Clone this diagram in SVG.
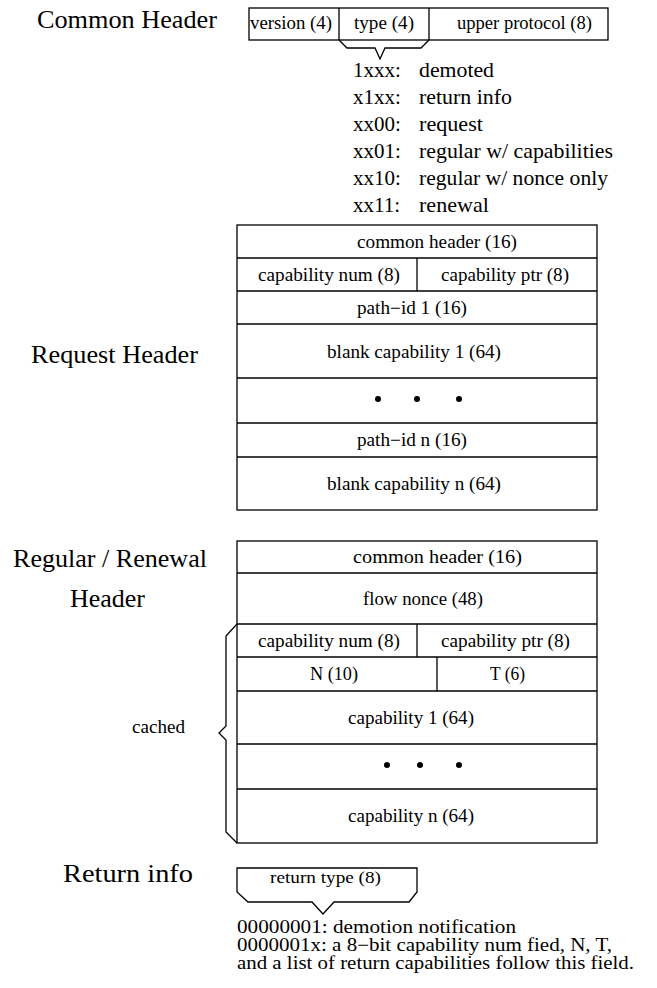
<svg xmlns="http://www.w3.org/2000/svg" width="657" height="988" viewBox="0 0 657 988">
<style>
.box{fill:none;stroke:#000;stroke-width:1.3}
.ln{fill:none;stroke:#000;stroke-width:1.3}
.big{font-family:"Liberation Serif","Times New Roman",serif;font-size:26px;fill:#000}
.t{font-family:"Liberation Serif","Times New Roman",serif;font-size:18px;fill:#000}
.s{font-family:"Liberation Serif","Times New Roman",serif;font-size:16px;fill:#000}
.l{font-family:"Liberation Serif","Times New Roman",serif;font-size:21px;fill:#000}
.d{font-family:"Liberation Serif","Times New Roman",serif;font-size:18px;fill:#000}
.dot{fill:#000}
</style>
<rect width="657" height="988" fill="#fff"/>

<g id="common-header">
<text class="big" x="37" y="28" textLength="180" lengthAdjust="spacingAndGlyphs">Common Header</text>
<rect class="box" x="249" y="8" width="359" height="32"/>
<line class="ln" x1="339" y1="8" x2="339" y2="40"/>
<line class="ln" x1="429" y1="8" x2="429" y2="40"/>
<text class="t" x="250" y="29" textLength="82" lengthAdjust="spacingAndGlyphs">version (4)</text>
<text class="t" x="354" y="29" textLength="60" lengthAdjust="spacingAndGlyphs">type (4)</text>
<text class="t" x="457" y="29" textLength="135" lengthAdjust="spacingAndGlyphs">upper protocol (8)</text>
</g>

<g id="type-list">
<text class="l" x="353" y="77">1xxx:</text><text class="l" x="419" y="77" textLength="75" lengthAdjust="spacingAndGlyphs">demoted</text>
<text class="l" x="353" y="104">x1xx:</text><text class="l" x="419" y="104" textLength="93" lengthAdjust="spacingAndGlyphs">return info</text>
<text class="l" x="353" y="131">xx00:</text><text class="l" x="419" y="131" textLength="64" lengthAdjust="spacingAndGlyphs">request</text>
<text class="l" x="353" y="158">xx01:</text><text class="l" x="419" y="158" textLength="194" lengthAdjust="spacingAndGlyphs">regular w/ capabilities</text>
<text class="l" x="353" y="185">xx10:</text><text class="l" x="419" y="185" textLength="189" lengthAdjust="spacingAndGlyphs">regular w/ nonce only</text>
<text class="l" x="353" y="212">xx11:</text><text class="l" x="419" y="212" textLength="70" lengthAdjust="spacingAndGlyphs">renewal</text>
</g>

<g id="request-header">
<text class="big" x="31" y="363" textLength="167" lengthAdjust="spacingAndGlyphs">Request Header</text>
<rect class="box" x="237" y="225" width="360" height="285"/>
<line class="ln" x1="237" y1="258" x2="597" y2="258"/>
<line class="ln" x1="237" y1="291" x2="597" y2="291"/>
<line class="ln" x1="417" y1="258" x2="417" y2="291"/>
<line class="ln" x1="237" y1="324" x2="597" y2="324"/>
<line class="ln" x1="237" y1="378" x2="597" y2="378"/>
<line class="ln" x1="237" y1="423" x2="597" y2="423"/>
<line class="ln" x1="237" y1="457" x2="597" y2="457"/>
<text class="t" x="357" y="248" textLength="160" lengthAdjust="spacingAndGlyphs">common header (16)</text>
<text class="t" x="258" y="281" textLength="142" lengthAdjust="spacingAndGlyphs">capability num (8)</text>
<text class="t" x="441" y="281" textLength="128" lengthAdjust="spacingAndGlyphs">capability ptr (8)</text>
<text class="t" x="357" y="314" textLength="110" lengthAdjust="spacingAndGlyphs">path−id 1 (16)</text>
<text class="t" x="327" y="358" textLength="174" lengthAdjust="spacingAndGlyphs">blank capability 1 (64)</text>
<circle class="dot" cx="378" cy="399" r="3"/>
<circle class="dot" cx="417" cy="399" r="3"/>
<circle class="dot" cx="459" cy="399" r="3"/>
<text class="t" x="357" y="446" textLength="110" lengthAdjust="spacingAndGlyphs">path−id n (16)</text>
<text class="t" x="327" y="490" textLength="174" lengthAdjust="spacingAndGlyphs">blank capability n (64)</text>
</g>

<g id="regular-header">
<text class="big" x="13" y="567" textLength="194" lengthAdjust="spacingAndGlyphs">Regular / Renewal</text>
<text class="big" x="70" y="607" textLength="75" lengthAdjust="spacingAndGlyphs">Header</text>
<rect class="box" x="237" y="541" width="360" height="302"/>
<line class="ln" x1="237" y1="573" x2="597" y2="573"/>
<line class="ln" x1="237" y1="624" x2="597" y2="624"/>
<line class="ln" x1="237" y1="657" x2="597" y2="657"/>
<line class="ln" x1="417" y1="624" x2="417" y2="657"/>
<line class="ln" x1="237" y1="691" x2="597" y2="691"/>
<line class="ln" x1="437" y1="657" x2="437" y2="691"/>
<line class="ln" x1="237" y1="744" x2="597" y2="744"/>
<line class="ln" x1="237" y1="789" x2="597" y2="789"/>
<text class="t" x="353" y="563" textLength="169" lengthAdjust="spacingAndGlyphs">common header (16)</text>
<text class="t" x="363" y="605" textLength="120" lengthAdjust="spacingAndGlyphs">flow nonce (48)</text>
<text class="t" x="258" y="647" textLength="142" lengthAdjust="spacingAndGlyphs">capability num (8)</text>
<text class="t" x="441" y="647" textLength="129" lengthAdjust="spacingAndGlyphs">capability ptr (8)</text>
<text class="t" x="310" y="680" textLength="48" lengthAdjust="spacingAndGlyphs">N (10)</text>
<text class="t" x="490" y="680" textLength="35" lengthAdjust="spacingAndGlyphs">T (6)</text>
<text class="t" x="348" y="724" textLength="126" lengthAdjust="spacingAndGlyphs">capability 1 (64)</text>
<circle class="dot" cx="387" cy="765" r="3"/>
<circle class="dot" cx="420" cy="765" r="3"/>
<circle class="dot" cx="459" cy="765" r="3"/>
<text class="t" x="348" y="822" textLength="126" lengthAdjust="spacingAndGlyphs">capability n (64)</text>
</g>

<g id="cached">
<text class="t" x="132" y="733" textLength="53" lengthAdjust="spacingAndGlyphs">cached</text>
</g>

<g id="return-info">
<text class="big" x="63" y="882" textLength="130" lengthAdjust="spacingAndGlyphs">Return info</text>
<path class="ln" d="M237,892 L237,868 L417,868 L417,892 L409,902 L334,902 L323,914 L312,902 L248,902 Z"/>
<text class="s" x="270" y="883" textLength="111" lengthAdjust="spacingAndGlyphs">return type (8)</text>
<text class="d" x="237" y="933" textLength="279" lengthAdjust="spacingAndGlyphs">00000001: demotion notification</text>
<text class="d" x="237" y="951" textLength="375" lengthAdjust="spacingAndGlyphs">0000001x: a 8−bit capability num fied, N, T,</text>
<text class="d" x="237" y="969" textLength="397" lengthAdjust="spacingAndGlyphs">and a list of return capabilities follow this field.</text>
</g>

<g id="connectors">
<path class="ln" d="M339,40 L347,48 L375,48 L380,59 L385,48 L421,48 L429,40"/>
<path class="ln" d="M237,624 L226,636 L226,726 L219,733 L226,740 L226,832 L237,843"/>
</g>
</svg>
